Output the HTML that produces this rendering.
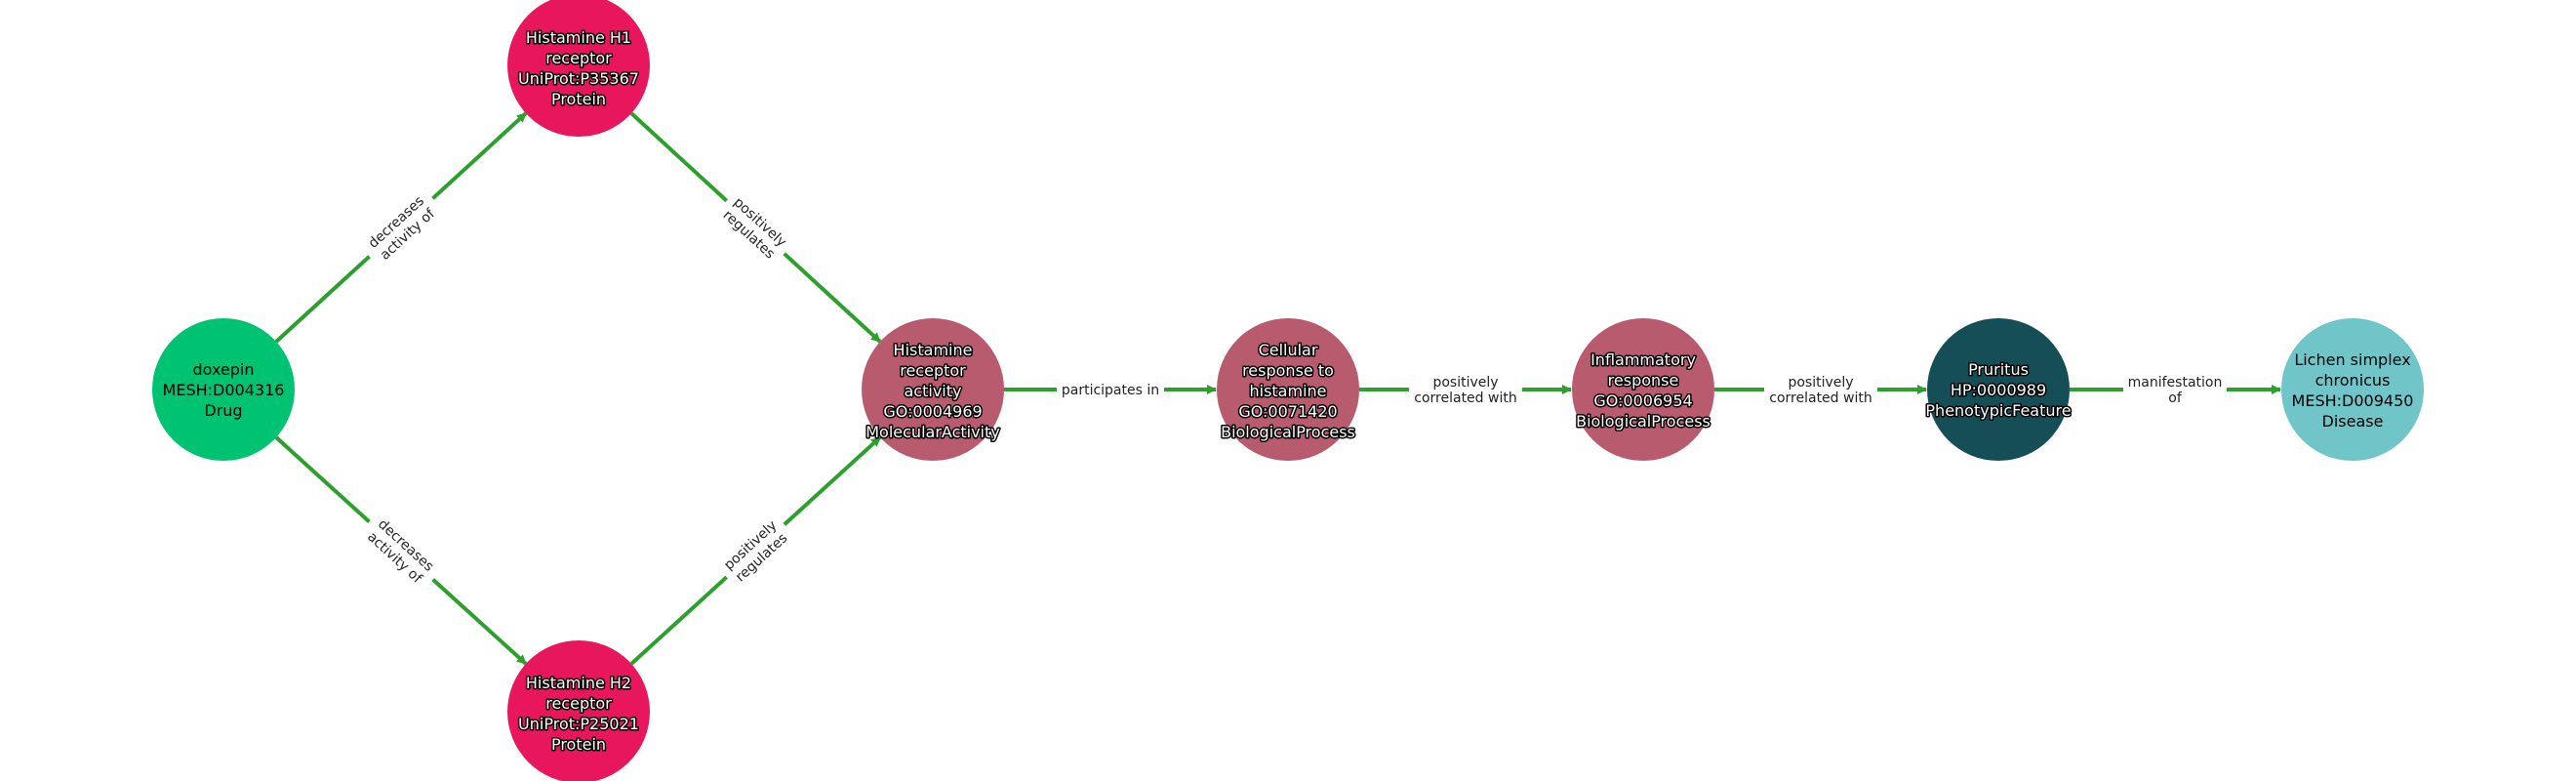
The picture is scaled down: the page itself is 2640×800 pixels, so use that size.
<!DOCTYPE html>
<html><head><meta charset="utf-8"><style>
html,body{margin:0;padding:0;background:#fff;}
svg{display:block;font-family:"DejaVu Sans","Liberation Sans",sans-serif;}
.nl{font-size:16px;text-anchor:middle;}
.w{fill:#fff;stroke:#000;stroke-width:3px;paint-order:stroke;stroke-linejoin:round;}
.b{fill:#000;}
.el{font-size:14px;text-anchor:middle;fill:#222;}
.bg{fill:#fff;}
.e{stroke:#2ca02c;stroke-width:4;fill:none;marker-end:url(#a);}
</style></head><body>
<svg width="2640" height="800" viewBox="0 0 2640 800">
<defs><marker id="a" markerWidth="10" markerHeight="10" refX="9" refY="5" orient="auto" markerUnits="userSpaceOnUse"><path d="M0,0 L10,5 L0,10 Z" fill="#2ca02c"/></marker></defs>
<!-- edges -->
<line class="e" x1="283" y1="350" x2="539" y2="116"/>
<line class="e" x1="647" y1="116" x2="902" y2="350"/>
<line class="e" x1="283" y1="448" x2="539" y2="680"/>
<line class="e" x1="647" y1="680" x2="902" y2="448"/>
<line class="e" x1="1029" y1="399" x2="1246" y2="399"/>
<line class="e" x1="1393" y1="399" x2="1610" y2="399"/>
<line class="e" x1="1757" y1="399" x2="1974" y2="399"/>
<line class="e" x1="2121" y1="399" x2="2337" y2="399"/>
<!-- edge labels -->
<g transform="translate(411,233) rotate(-42.4)"><rect class="bg" x="-44" y="-19" width="88" height="38"/><text class="el" y="-3">decreases</text><text class="el" y="14">activity of</text></g>
<g transform="translate(774,233) rotate(42.4)"><rect class="bg" x="-40" y="-19" width="80" height="38"/><text class="el" y="-3">positively</text><text class="el" y="14">regulates</text></g>
<g transform="translate(411,564) rotate(42.4)"><rect class="bg" x="-44" y="-19" width="88" height="38"/><text class="el" y="-3">decreases</text><text class="el" y="14">activity of</text></g>
<g transform="translate(774,564) rotate(-42.4)"><rect class="bg" x="-40" y="-19" width="80" height="38"/><text class="el" y="-3">positively</text><text class="el" y="14">regulates</text></g>
<rect class="bg" x="1083" y="388" width="110" height="22"/>
<text class="el" x="1138" y="404">participates in</text>
<rect class="bg" x="1444" y="380" width="116" height="38"/>
<text class="el" x="1502" y="396">positively</text><text class="el" x="1502" y="412">correlated with</text>
<rect class="bg" x="1808" y="380" width="116" height="38"/>
<text class="el" x="1866" y="396">positively</text><text class="el" x="1866" y="412">correlated with</text>
<rect class="bg" x="2176" y="380" width="106" height="38"/>
<text class="el" x="2229" y="396">manifestation</text><text class="el" x="2229" y="412">of</text>
<!-- nodes -->
<circle cx="229" cy="399" r="73" fill="#00c372"/>
<text class="nl b" x="229"><tspan x="229" y="384">doxepin</tspan><tspan x="229" y="405">MESH:D004316</tspan><tspan x="229" y="426">Drug</tspan></text>
<circle cx="593" cy="67" r="73" fill="#e8175d"/>
<text class="nl w"><tspan x="593" y="44">Histamine H1</tspan><tspan x="593" y="65">receptor</tspan><tspan x="593" y="86">UniProt:P35367</tspan><tspan x="593" y="107">Protein</tspan></text>
<circle cx="593" cy="729" r="73" fill="#e8175d"/>
<text class="nl w"><tspan x="593" y="705">Histamine H2</tspan><tspan x="593" y="726">receptor</tspan><tspan x="593" y="747">UniProt:P25021</tspan><tspan x="593" y="768">Protein</tspan></text>
<circle cx="956" cy="399" r="73" fill="#b85b6f"/>
<text class="nl w"><tspan x="956" y="364">Histamine</tspan><tspan x="956" y="385">receptor</tspan><tspan x="956" y="406">activity</tspan><tspan x="956" y="427">GO:0004969</tspan><tspan x="956" y="448">MolecularActivity</tspan></text>
<circle cx="1320" cy="399" r="73" fill="#b85b6f"/>
<text class="nl w"><tspan x="1320" y="364">Cellular</tspan><tspan x="1320" y="385">response to</tspan><tspan x="1320" y="406">histamine</tspan><tspan x="1320" y="427">GO:0071420</tspan><tspan x="1320" y="448">BiologicalProcess</tspan></text>
<circle cx="1684" cy="399" r="73" fill="#b85b6f"/>
<text class="nl w"><tspan x="1684" y="374">Inflammatory</tspan><tspan x="1684" y="395">response</tspan><tspan x="1684" y="416">GO:0006954</tspan><tspan x="1684" y="437">BiologicalProcess</tspan></text>
<circle cx="2048" cy="399" r="73" fill="#154e56"/>
<text class="nl w"><tspan x="2048" y="384">Pruritus</tspan><tspan x="2048" y="405">HP:0000989</tspan><tspan x="2048" y="426">PhenotypicFeature</tspan></text>
<circle cx="2411" cy="399" r="73" fill="#70c5c9"/>
<text class="nl b"><tspan x="2411" y="374">Lichen simplex</tspan><tspan x="2411" y="395">chronicus</tspan><tspan x="2411" y="416">MESH:D009450</tspan><tspan x="2411" y="437">Disease</tspan></text>
</svg>
</body></html>
